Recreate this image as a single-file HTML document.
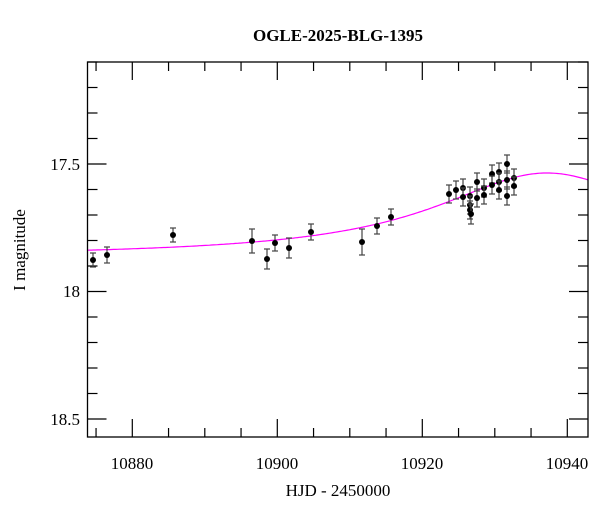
<!DOCTYPE html>
<html><head><meta charset="utf-8"><style>
body{margin:0;background:#fff;}
svg{display:block;font-family:"Liberation Serif",serif;}
</style></head><body>
<svg id="s" width="600" height="512" xmlns="http://www.w3.org/2000/svg">
<text x="338" y="41" font-size="17" text-anchor="middle" font-weight="bold">OGLE-2025-BLG-1395</text>
<g id="ticks" stroke="#000" stroke-width="1.2"></g>
<path id="curve" fill="none" stroke="#ff00ff" stroke-width="1.2"/>
<g id="pts"></g>
<rect x="87.5" y="62" width="500.5" height="375" fill="none" stroke="#000" stroke-width="1.3"/>
<g font-size="17" text-anchor="middle">
<text x="132" y="469">10880</text><text x="277" y="469">10900</text><text x="422" y="469">10920</text><text x="567" y="469">10940</text>
</g>
<g font-size="17" text-anchor="end">
<text x="80" y="170">17.5</text><text x="80" y="297">18</text><text x="80" y="425">18.5</text>
</g>
<text x="338" y="496" font-size="17" text-anchor="middle">HJD - 2450000</text>
<text transform="translate(25,250) rotate(-90)" font-size="17" text-anchor="middle">I magnitude</text>
</svg>
<script>
var L=87.5,R=588,T=62,B=437;
function X(t){return 132.3+(t-10880)*7.25;}
function Y(m){return 164+(m-17.5)*255;}
var tk='';
for(var t=10875;t<=10940;t+=5){var x=X(t),l=(t%20==0)?18:9;
tk+='<line x1="'+x+'" y1="'+B+'" x2="'+x+'" y2="'+(B-l)+'"/><line x1="'+x+'" y1="'+T+'" x2="'+x+'" y2="'+(T+l)+'"/>';}
for(var i=1;i<=15;i++){var m=17+i/10,y=Y(m);if(y<T||y>B)continue;var l=(i%5==0)?19:10;
tk+='<line x1="'+L+'" y1="'+y+'" x2="'+(L+l)+'" y2="'+y+'"/><line x1="'+R+'" y1="'+y+'" x2="'+(R-l)+'" y2="'+y+'"/>';}
document.getElementById('ticks').innerHTML=tk;
var d='';
for(var x=L;x<=R;x+=2){var t=10880+(x-132.3)/7.25,dt=(t-10937.2)/17.5;
var f=1+0.355/(1+dt*dt);var m=17.865-2.5*Math.log10(f);d+=(x==L?'M':'L')+x.toFixed(1)+','+Y(m).toFixed(1);}
document.getElementById('curve').setAttribute('d',d);
var P=[[93,260,7],[107,255,8],[173,235,7],[252,241,12],[267,259,10],[275,243,8],[289,248,10],[311,232,8],[362,242,13],[377,226,8],[391,217,8],
[449,194,9],[456,190,9],[463,188,9],[463,197,9],[470,196,9],[470,205,9],[470,210,9],[471,214,10],[477,182,9],[477,198,9],[484,188,9],[484,195,9],
[492,174,9],[492,185,9],[499,172,9],[499,182,9],[499,190,9],[507,164,9],[507,196,9],[507,180,9],[514,178,9],[514,186,9]];
var s='';
P.forEach(function(p){var x=p[0],y=p[1],e=p[2];
s+='<g stroke="#444" stroke-width="1.2"><line x1="'+x+'" y1="'+(y-e)+'" x2="'+x+'" y2="'+(y+e)+'"/><line x1="'+(x-3)+'" y1="'+(y-e)+'" x2="'+(x+3)+'" y2="'+(y-e)+'"/><line x1="'+(x-3)+'" y1="'+(y+e)+'" x2="'+(x+3)+'" y2="'+(y+e)+'"/></g><circle cx="'+x+'" cy="'+y+'" r="3" fill="#000"/>';});
document.getElementById('pts').innerHTML=s;
</script>
</body></html>
